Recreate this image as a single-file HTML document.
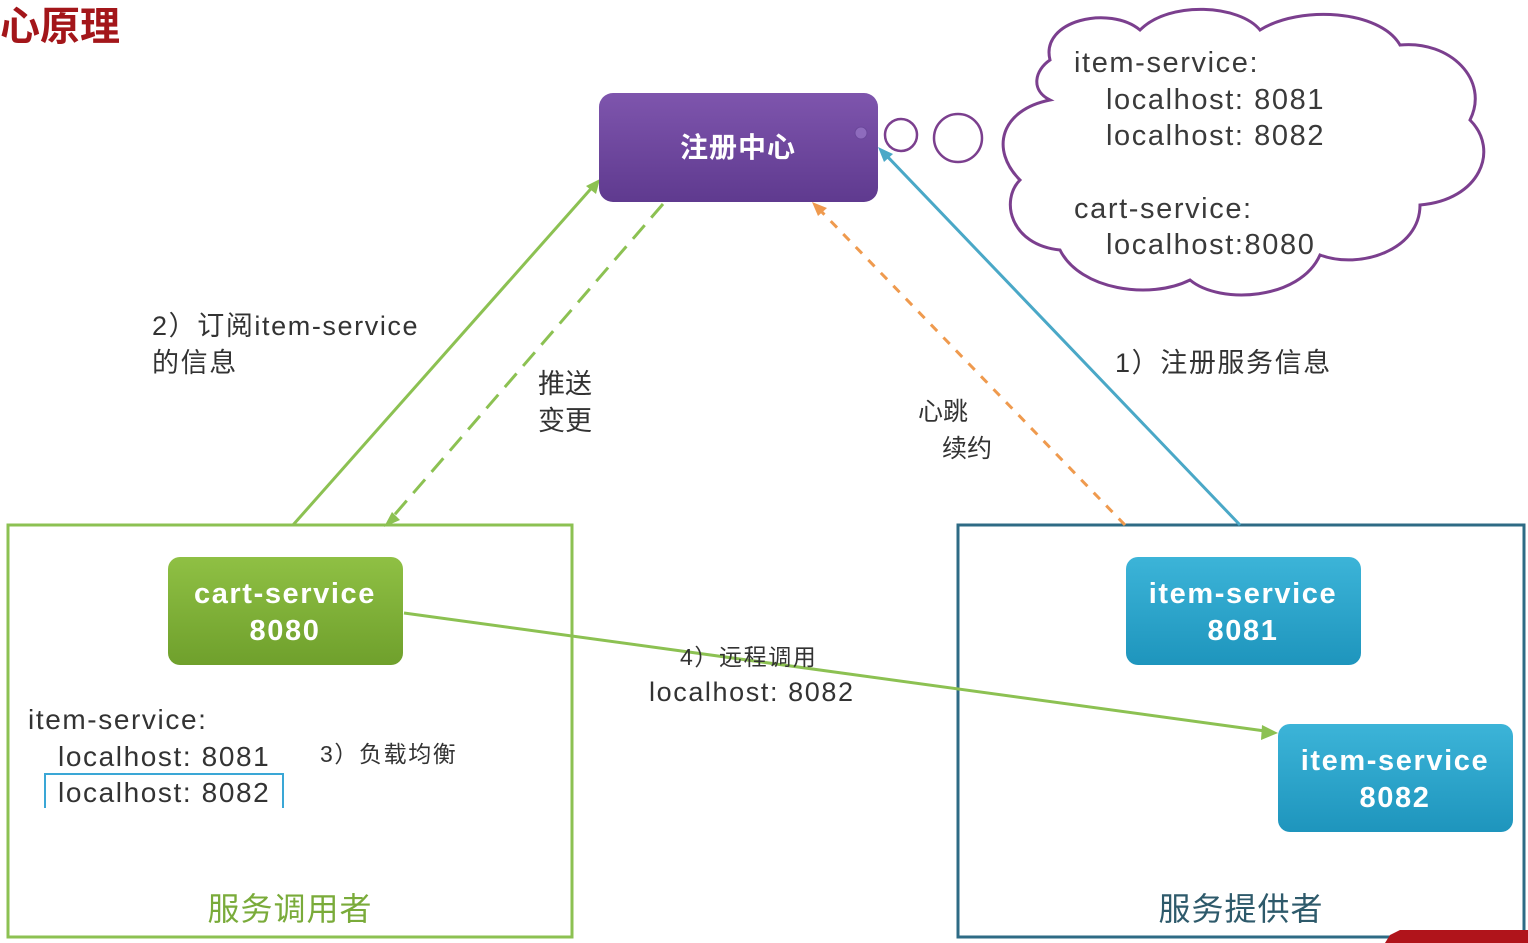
<!DOCTYPE html>
<html><head><meta charset="utf-8"><style>
html,body{margin:0;padding:0;background:#fff;width:1528px;height:943px;overflow:hidden}
svg text{font-family:"Liberation Sans","Noto Sans CJK SC",sans-serif}
.ls{letter-spacing:1.6px}
</style></head><body>
<svg width="1528" height="943" viewBox="0 0 1528 943" xmlns="http://www.w3.org/2000/svg">
<defs>
<linearGradient id="pg" x1="0" y1="0" x2="0" y2="1"><stop offset="0" stop-color="#7e55ad"/><stop offset="1" stop-color="#5f3a8f"/></linearGradient>
<linearGradient id="gg" x1="0" y1="0" x2="0" y2="1"><stop offset="0" stop-color="#8fc044"/><stop offset="1" stop-color="#6fa02c"/></linearGradient>
<linearGradient id="bg" x1="0" y1="0" x2="0" y2="1"><stop offset="0" stop-color="#3cb4d8"/><stop offset="1" stop-color="#1e95bd"/></linearGradient>
</defs>
<text x="0" y="40" font-size="40" font-weight="bold" fill="#a3161a">心原理</text>

<!-- cloud -->
<path d="M1050,60 C1040,20 1110,5 1140,30 C1170,0 1240,5 1260,30 C1300,5 1380,10 1400,45 C1450,40 1490,80 1470,120 C1500,150 1480,200 1420,205 C1420,250 1360,270 1320,255 C1300,300 1220,305 1190,280 C1150,300 1080,290 1060,250 C1010,245 1000,200 1020,180 C990,150 1000,110 1050,100 C1030,90 1035,70 1050,60 Z" fill="#fff" stroke="#7b3f8e" stroke-width="3"/>
<circle cx="901" cy="135" r="16" fill="#fff" stroke="#7b3f8e" stroke-width="2.5"/>
<circle cx="958" cy="138" r="24" fill="#fff" stroke="#7b3f8e" stroke-width="2.5"/>
<g font-size="29" fill="#3a3a3a" class="ls">
<text x="1074" y="72">item-service:</text>
<text x="1106" y="109">localhost: 8081</text>
<text x="1106" y="145">localhost: 8082</text>
<text x="1074" y="218">cart-service:</text>
<text x="1106" y="254">localhost:8080</text>
</g>

<!-- boxes -->
<rect x="8" y="525" width="564" height="412" fill="none" stroke="#8cc152" stroke-width="3"/>
<rect x="958" y="525" width="566" height="412" fill="none" stroke="#2e6b85" stroke-width="3"/>
<path d="M1390,935 L1400,930 L1528,930 L1528,943 L1385,943Z" fill="#b0141b"/>

<!-- connectors -->
<line x1="293" y1="525" x2="596" y2="183" stroke="#8cc152" stroke-width="3"/>
<polygon points="600,179 586,186 596,194" fill="#8cc152"/>
<line x1="663" y1="204" x2="390" y2="520" stroke="#8cc152" stroke-width="3" stroke-dasharray="18,10"/>
<polygon points="384,527 392,512 400,520" fill="#8cc152"/>
<line x1="1125" y1="525" x2="818" y2="208" stroke="#ef9a4e" stroke-width="3" stroke-dasharray="9,9"/>
<polygon points="812,202 827,208 818,216" fill="#ef9a4e"/>
<line x1="1240" y1="525" x2="884" y2="153" stroke="#4aa8c7" stroke-width="3"/>
<polygon points="878,147 893,154 884,162" fill="#4aa8c7"/>
<line x1="404" y1="613" x2="1265" y2="731" stroke="#8cc152" stroke-width="3"/>
<polygon points="1278,733 1262,725 1261,740" fill="#8cc152"/>

<!-- registry -->
<rect x="599" y="93" width="279" height="109" rx="14" fill="url(#pg)"/>
<circle cx="861" cy="133" r="6" fill="#8e6bbd" stroke="#6a479a"/>
<text x="738" y="157" font-size="28" fill="#fff" text-anchor="middle" font-weight="bold" letter-spacing="1">注册中心</text>

<g font-size="29" fill="#fff" text-anchor="middle" class="ls" font-weight="bold">
<rect x="168" y="557" width="235" height="108" rx="12" fill="url(#gg)"/>
<text x="285" y="603">cart-service</text>
<text x="285" y="640">8080</text>
<rect x="1126" y="557" width="235" height="108" rx="12" fill="url(#bg)"/>
<text x="1243" y="603">item-service</text>
<text x="1243" y="640">8081</text>
<rect x="1278" y="724" width="235" height="108" rx="12" fill="url(#bg)"/>
<text x="1395" y="770">item-service</text>
<text x="1395" y="807">8082</text>
</g>

<!-- labels -->
<g fill="#333">
<text x="152" y="335" font-size="27" class="ls">2）订阅item-service</text>
<text x="152" y="372" font-size="27" class="ls">的信息</text>
<text x="538" y="393" font-size="27">推送</text>
<text x="538" y="430" font-size="27">变更</text>
<text x="918" y="420" font-size="25">心跳</text>
<text x="942" y="457" font-size="25">续约</text>
<text x="1115" y="372" font-size="27" class="ls">1）注册服务信息</text>
<text x="680" y="665" font-size="23" class="ls">4）远程调用</text>
<text x="649" y="701" font-size="27" class="ls">localhost: 8082</text>
<text x="28" y="729" font-size="28" class="ls">item-service:</text>
<text x="58" y="766" font-size="28" class="ls">localhost: 8081</text>
<text x="58" y="802" font-size="28" class="ls">localhost: 8082</text>
<text x="320" y="762" font-size="23" class="ls">3）负载均衡</text>
</g>
<path d="M45,808 L45,774 L283,774 L283,808" fill="none" stroke="#3aa7d6" stroke-width="2"/>
<text x="290" y="920" font-size="32" fill="#7aab3a" text-anchor="middle" letter-spacing="1">服务调用者</text>
<text x="1241" y="920" font-size="32" fill="#2e5a6b" text-anchor="middle" letter-spacing="1">服务提供者</text>
</svg>
</body></html>
